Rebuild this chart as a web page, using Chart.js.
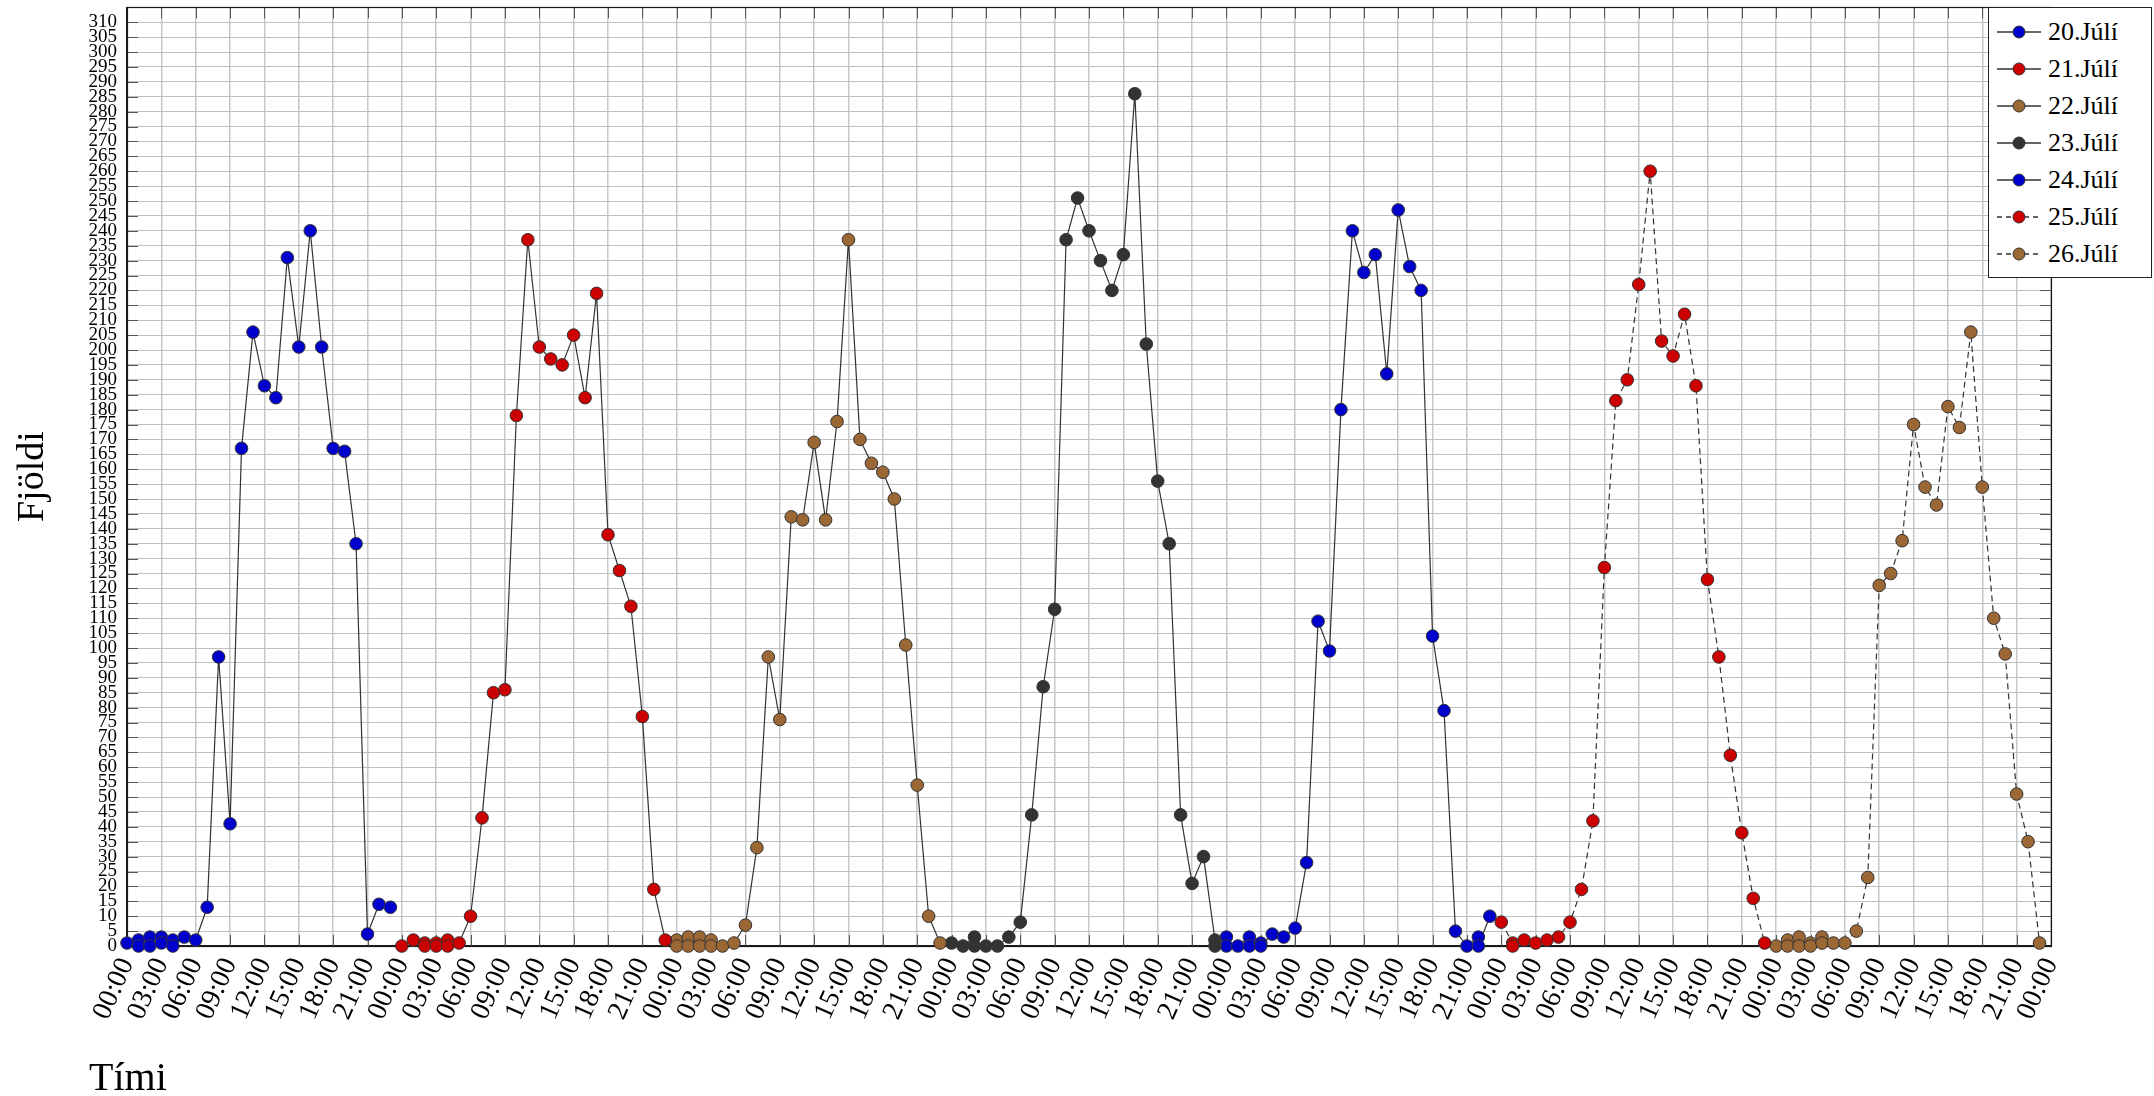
<!DOCTYPE html>
<html>
<head>
<meta charset="utf-8">
<script src="https://cdn.jsdelivr.net/npm/chart.js@4.4.1/dist/chart.umd.min.js"></script>
<style>
  html, body { margin: 0; padding: 0; background: #ffffff; overflow: hidden; }
  #wrap { position: relative; width: 2154px; height: 1096px; }
  #c { position: absolute; left: 0; top: 0; }
  #legend {
    position: absolute; left: 1988px; top: 7px; width: 164px; height: 271px;
    box-sizing: border-box; border: 1px solid #222; background: #fff;
    padding-top: 6px; font-family: "Liberation Serif", "DejaVu Serif", serif; font-size: 26px; color: #000;
  }
  .row { height: 36.9px; display: flex; align-items: center; }
  .row svg { margin-left: 7px; margin-right: 6px; flex: none; }
</style>
</head>
<body>
<div id="wrap">
  <canvas id="c" width="2154" height="1096"></canvas>
  <div id="legend"></div>
</div>
<script>
// ---- data (hour of day, count) ----
const seriesNames = ['20.Júlí', '21.Júlí', '22.Júlí', '23.Júlí', '24.Júlí', '25.Júlí', '26.Júlí'];
const seriesColors = ['#0000cc', '#cc0000', '#9b6734', '#333333', '#0000cc', '#cc0000', '#9b6734'];
const seriesDashed = [false, false, false, false, false, true, true];

const hours20 = [0,1,1,2,2,3,3,4,4,5,6,7,8,9,10,11,12,13,14,15,16,17,18,19,20,21,22,23];
const values20 = [1,2,0,3,0,3,1,2,0,3,2,13,97,41,167,206,188,184,231,201,240,201,167,166,135,4,14,13];

const hours21 = [0,1,2,2,3,3,4,4,5,6,7,8,9,10,11,12,13,14,15,16,17,18,19,20,21,22,23];
const values21 = [0,2,1,0,1,0,2,0,1,10,43,85,86,178,237,201,197,195,205,184,219,138,126,114,77,19,2];

const hours22 = [0,0,1,1,2,2,3,3,4,5,6,7,8,9,10,11,12,13,14,15,16,17,18,19,20,21,22,23];
const values22 = [2,0,3,0,3,0,2,0,0,1,7,33,97,76,144,143,169,143,176,237,170,162,159,150,101,54,10,1];

const hours23 = [0,1,2,2,3,4,5,6,7,8,9,10,11,12,13,14,15,16,17,18,19,20,21,22,23,23];
const values23 = [1,0,3,0,0,0,3,8,44,87,113,237,251,240,230,220,232,286,202,156,135,44,21,30,2,0];

const hours24 = [0,0,1,2,2,3,3,4,5,6,7,8,9,10,11,12,13,14,15,16,17,18,19,20,21,22,22,23];
const values24 = [3,0,0,3,0,1,0,4,3,6,28,109,99,180,240,226,232,192,247,228,220,104,79,5,0,3,0,10];

const hours25 = [0,1,1,2,3,4,5,6,7,8,9,10,11,12,13,14,15,16,17,18,19,20,21,22,23];
const values25 = [8,1,0,2,1,2,3,8,19,42,127,183,190,222,260,203,198,212,188,123,97,64,38,16,1];

const hours26 = [0,1,1,2,2,3,3,4,4,5,6,7,8,9,10,11,12,13,14,15,16,17,18,19,20,21,22,23];
const values26 = [0,2,0,3,0,1,0,3,1,1,1,5,23,121,125,136,175,154,148,181,174,206,154,110,98,51,35,1];

const dayHours = [hours20, hours21, hours22, hours23, hours24, hours25, hours26];
const dayValues = [values20, values21, values22, values23, values24, values25, values26];

const hourTickLabels = ['00:00','03:00','06:00','09:00','12:00','15:00','18:00','21:00'];
const xAxisTitle = 'Tími';
const yAxisTitle = 'Fjöldi';
const yMax = 315, yLabelMax = 310, yStep = 5, xStep = 3, totalHours = 168;

// ---- build datasets ----
const FONT = '"Liberation Serif", "DejaVu Serif", serif';
const datasets = seriesNames.map((name, i) => ({
  label: name,
  data: dayHours[i].map((h, k) => ({ x: i * 24 + h, y: dayValues[i][k] })),
  borderColor: '#333333',
  borderWidth: 1.2,
  borderDash: seriesDashed[i] ? [6, 4] : [],
  backgroundColor: seriesColors[i],
  pointBackgroundColor: seriesColors[i],
  pointBorderColor: '#333333',
  pointBorderWidth: 1,
  pointRadius: 6.3,
  pointHoverRadius: 6.3,
  tension: 0,
  fill: false,
  clip: false
}));

const frameTicks = {
  id: 'frameTicks',
  beforeDatasetsDraw(chart) {
    const { ctx, chartArea: a, scales: { x, y } } = chart;
    const L = 11;
    ctx.save();
    ctx.strokeStyle = '#555555';
    ctx.lineWidth = 1;
    ctx.beginPath();
    x.ticks.forEach(t => {
      const px = Math.round(x.getPixelForValue(t.value)) + 0.5;
      ctx.moveTo(px, a.top); ctx.lineTo(px, a.top + L);
      ctx.moveTo(px, a.bottom); ctx.lineTo(px, a.bottom - L);
    });
    y.ticks.forEach(t => {
      const py = Math.round(y.getPixelForValue(t.value)) + 0.5;
      ctx.moveTo(a.left, py); ctx.lineTo(a.left + L, py);
      ctx.moveTo(a.right, py); ctx.lineTo(a.right - L, py);
    });
    ctx.stroke();
    ctx.strokeStyle = '#1a1a1a';
    ctx.lineWidth = 1.2;
    ctx.strokeRect(Math.round(a.left) + 0.5, Math.round(a.top) + 0.5, Math.round(a.right - a.left), Math.round(a.bottom - a.top));
    ctx.restore();
  },
  afterDraw(chart) {
    // x-axis title, placed at the lower left as in the original
    const { ctx, chartArea: a } = chart;
    ctx.save();
    ctx.fillStyle = '#000';
    ctx.font = '40px ' + FONT;
    ctx.textAlign = 'left';
    ctx.textBaseline = 'alphabetic';
    ctx.fillText(xAxisTitle, a.left - 38, 1090);
    ctx.restore();
  }
};

new Chart(document.getElementById('c'), {
  type: 'line',
  data: { datasets },
  options: {
    responsive: false,
    animation: false,
    devicePixelRatio: 1,
    layout: { padding: { top: 7, right: 103, left: 0, bottom: 0 } },
    plugins: { legend: { display: false }, tooltip: { enabled: false } },
    scales: {
      x: {
        type: 'linear',
        min: 0, max: totalHours,
        afterFit(s) { s.height = 150; s.paddingLeft = 0; s.paddingRight = 0; s.paddingTop = 0; s.paddingBottom = 0; },
        ticks: {
          stepSize: xStep, autoSkip: false, minRotation: 66, maxRotation: 66,
          padding: 7, color: '#000',
          font: { family: FONT, size: 28 },
          callback: v => hourTickLabels[Math.round(v / xStep) % hourTickLabels.length]
        },
        grid: { color: '#c8c8c8', lineWidth: 1.5, drawTicks: false },
        border: { display: true, color: '#1a1a1a', width: 1.2 },
        title: { display: false, text: xAxisTitle }
      },
      y: {
        type: 'linear',
        min: 0, max: yMax,
        afterFit(s) { s.width = 127; s.paddingTop = 0; s.paddingBottom = 0; s.paddingLeft = 0; s.paddingRight = 0; },
        ticks: {
          stepSize: yStep, autoSkip: false, padding: 10, color: '#000',
          font: { family: FONT, size: 19 },
          callback: v => (v <= yLabelMax ? String(v) : '')
        },
        grid: { color: '#c0c0c0', lineWidth: 1, drawTicks: false },
        border: { display: true, color: '#1a1a1a', width: 1.2 },
        title: {
          display: true, text: yAxisTitle, color: '#000',
          font: { family: FONT, size: 38, lineHeight: 1.2 },
          padding: { top: 10, bottom: 0 }
        }
      }
    }
  },
  plugins: [frameTicks]
});

// ---- legend (HTML, real text) ----
const legend = document.getElementById('legend');
seriesNames.forEach((name, i) => {
  const row = document.createElement('div');
  row.className = 'row';
  const dash = seriesDashed[i] ? 'stroke-dasharray="5 4"' : '';
  row.innerHTML =
    '<svg width="46" height="20" viewBox="0 0 46 20">' +
    '<line x1="1" y1="10" x2="45" y2="10" stroke="#333" stroke-width="1.3" ' + dash + '/>' +
    '<circle cx="23" cy="10" r="6" fill="' + seriesColors[i] + '" stroke="#333" stroke-width="1"/>' +
    '</svg><span>' + name + '</span>';
  legend.appendChild(row);
});
</script>
</body>
</html>
